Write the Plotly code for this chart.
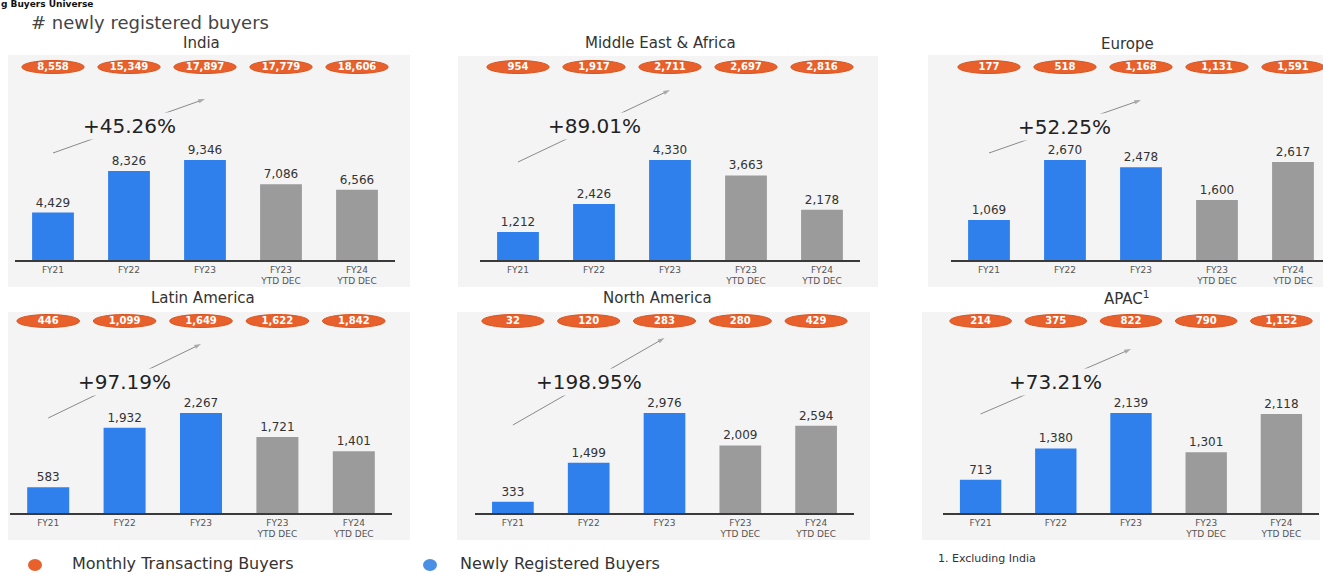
import plotly.graph_objects as go

W, H = 1323, 574

# ---------------- data ----------------
categories = ["FY21", "FY22", "FY23", "FY23 YTD DEC", "FY24 YTD DEC"]
tick_labels = ["FY21", "FY22", "FY23", "FY23<br>YTD DEC", "FY24<br>YTD DEC"]
period_type = ["full", "full", "full", "ytd", "ytd"]

regions = ["India", "Middle East & Africa", "Europe",
           "Latin America", "North America", "APAC<sup>1</sup>"]

new_india = [4429, 8326, 9346, 7086, 6566]
new_mea = [1212, 2426, 4330, 3663, 2178]
new_europe = [1069, 2670, 2478, 1600, 2617]
new_latam = [583, 1932, 2267, 1721, 1401]
new_na = [333, 1499, 2976, 2009, 2594]
new_apac = [713, 1380, 2139, 1301, 2118]

mtb_india = [8558, 15349, 17897, 17779, 18606]
mtb_mea = [954, 1917, 2711, 2697, 2816]
mtb_europe = [177, 518, 1168, 1131, 1591]
mtb_latam = [446, 1099, 1649, 1622, 1842]
mtb_na = [32, 120, 283, 280, 429]
mtb_apac = [214, 375, 822, 790, 1152]

growth_labels = ["+45.26%", "+89.01%", "+52.25%", "+97.19%", "+198.95%", "+73.21%"]

new_series = [new_india, new_mea, new_europe, new_latam, new_na, new_apac]
mtb_series = [mtb_india, mtb_mea, mtb_europe, mtb_latam, mtb_na, mtb_apac]

# ---------------- styling / layout geometry (pixels) ----------------
FONT = "DejaVu Sans"
BLUE = "#2F80ED"
GREY = "#9B9B9B"
ORANGE = "#E8612C"
PANEL_BG = "#F4F4F4"
bar_colors = {"full": BLUE, "ytd": GREY}

panels = [
    dict(dom=(15, 395), hi=4.5, base=260, top=55, bg=(8, 410, 55, 287), title=(202, 43), arr=(107, 161, 134), pill=193),
    dict(dom=(480, 860), hi=4.5, base=260, top=55, bg=(458, 878, 56, 287), title=(660, 43), arr=(98, 170, 134), pill=193),
    dict(dom=(951, 1323), hi=4.395, base=260, top=55, bg=(928, 1323, 55, 287), title=(1127, 44), arr=(107, 160, 133), pill=193),
    dict(dom=(10, 392), hi=4.5, base=513, top=312, bg=(8, 410, 312, 540), title=(203, 298), arr=(95, 169, 131), pill=192),
    dict(dom=(475, 854), hi=4.5, base=513, top=312, bg=(457, 870, 312, 540), title=(657, 298), arr=(88, 175, 131), pill=192),
    dict(dom=(943, 1319), hi=4.5, base=513, top=312, bg=(922, 1320, 312, 540), title=(1127, 298), arr=(99, 164, 131), pill=192),
]


def px(x):
    return x / W


def py(y):
    return 1 - y / H


fig = go.Figure()
shapes = []
annotations = []
layout_axes = {}

idx = list(range(len(categories)))

for i, (p, newv, mtbv, name, glabel) in enumerate(
        zip(panels, new_series, mtb_series, regions, growth_labels)):
    xa = "x" if i == 0 else f"x{i+1}"
    ya = "y" if i == 0 else f"y{i+1}"
    xkey = "xaxis" if i == 0 else f"xaxis{i+1}"
    ykey = "yaxis" if i == 0 else f"yaxis{i+1}"

    vmax = max(newv)
    unit = vmax / 100.0  # value per pixel so the tallest bar is 100 px high
    yrange_hi = unit * (p["base"] - p["top"])

    # panel background
    x0, x1, y0, y1 = p["bg"]
    shapes.append(dict(type="rect", xref="paper", yref="paper", layer="below",
                       x0=px(x0), x1=px(x1), y0=py(y1), y1=py(y0),
                       fillcolor=PANEL_BG, line=dict(width=0)))

    # bars
    fig.add_trace(go.Bar(
        x=idx, y=newv, xaxis=xa, yaxis=ya,
        marker=dict(color=[bar_colors[t] for t in period_type], line=dict(width=0)),
        width=0.55,
        texttemplate="%{y:,}", textposition="outside", cliponaxis=False,
        textfont=dict(family=FONT, size=12, color="#333333"),
        showlegend=False, hoverinfo="skip"))

    # orange pills (monthly transacting buyers)
    hp = p["pill"]
    for k in idx:
        shapes.append(dict(type="circle", xref=xa, yref=ya, layer="below",
                           x0=k - 0.41, x1=k + 0.41,
                           y0=unit * (hp - 6.5), y1=unit * (hp + 6.5),
                           fillcolor=ORANGE, line=dict(color="#D9531E", width=1)))
    fig.add_trace(go.Scatter(
        x=idx, y=[unit * hp] * len(idx), xaxis=xa, yaxis=ya,
        mode="text", text=[f"{v:,}" for v in mtbv],
        textfont=dict(family=FONT, size=10, color="white", weight="bold"),
        cliponaxis=False, showlegend=False, hoverinfo="skip"))

    # growth arrow (FY21 -> FY23) + label
    h0, h1, ht = p["arr"]
    fig.add_trace(go.Scatter(
        x=[0, 2], y=[unit * h0, unit * h1], xaxis=xa, yaxis=ya,
        mode="lines+markers",
        line=dict(color="#8A8A8A", width=1),
        marker=dict(symbol="arrow", size=[0, 7], angleref="previous",
                    color="#8A8A8A", line=dict(width=0)),
        cliponaxis=False, showlegend=False, hoverinfo="skip"))
    annotations.append(dict(xref=xa, yref=ya, x=1, y=unit * ht, text=glabel,
                            showarrow=False, bgcolor=PANEL_BG, borderpad=1,
                            font=dict(family=FONT, size=20, color="#222222")))

    # region title
    tx, ty = p["title"]
    annotations.append(dict(xref="paper", yref="paper", x=px(tx), y=py(ty),
                            xanchor="center", yanchor="middle", text=name, showarrow=False,
                            font=dict(family=FONT, size=15, color="#333333")))

    layout_axes[xkey] = dict(domain=[px(p["dom"][0]), px(p["dom"][1])],
                             range=[-0.5, p["hi"]], anchor=ya,
                             tickmode="array", tickvals=idx, ticktext=tick_labels,
                             showline=True, linecolor="#3A3A3A", linewidth=1.6,
                             ticks="", showgrid=False, zeroline=False,
                             tickfont=dict(family=FONT, size=9, color="#555555"),
                             fixedrange=True)
    layout_axes[ykey] = dict(domain=[py(p["base"]), py(p["top"])],
                             range=[0, yrange_hi], anchor=xa, visible=False,
                             showgrid=False, zeroline=False, fixedrange=True)

# header texts
annotations.append(dict(xref="paper", yref="paper", x=0, y=py(4), xanchor="left",
                        yanchor="middle", text="<b>g Buyers Universe</b>", showarrow=False,
                        borderpad=0, font=dict(family=FONT, size=9, color="#111111")))
annotations.append(dict(xref="paper", yref="paper", x=px(30), y=py(22), xanchor="left",
                        yanchor="middle", text="# newly registered buyers", showarrow=False,
                        borderpad=0, font=dict(family=FONT, size=18, color="#444444")))

# legend (bottom)
shapes.append(dict(type="circle", xref="paper", yref="paper",
                   x0=px(28), x1=px(42), y0=py(571), y1=py(559),
                   fillcolor=ORANGE, line=dict(width=0)))
shapes.append(dict(type="circle", xref="paper", yref="paper",
                   x0=px(423), x1=px(437), y0=py(571), y1=py(559),
                   fillcolor="#4A8FE3", line=dict(width=0)))
annotations.append(dict(xref="paper", yref="paper", x=px(70), y=py(563), xanchor="left",
                        yanchor="middle", text="Monthly Transacting Buyers", showarrow=False,
                        font=dict(family=FONT, size=16, color="#333333")))
annotations.append(dict(xref="paper", yref="paper", x=px(458), y=py(563), xanchor="left",
                        yanchor="middle", text="Newly Registered Buyers", showarrow=False,
                        font=dict(family=FONT, size=16, color="#333333")))
annotations.append(dict(xref="paper", yref="paper", x=px(936), y=py(558), xanchor="left",
                        yanchor="middle", text="1. Excluding India", showarrow=False,
                        font=dict(family=FONT, size=11, color="#333333")))

fig.update_layout(
    width=W, height=H,
    margin=dict(l=0, r=0, t=0, b=0),
    paper_bgcolor="white", plot_bgcolor="rgba(0,0,0,0)",
    showlegend=False, bargap=0.45,
    shapes=shapes, annotations=annotations,
    font=dict(family=FONT),
    **layout_axes,
)

fig.write_html("out.html", config={"displayModeBar": False})
